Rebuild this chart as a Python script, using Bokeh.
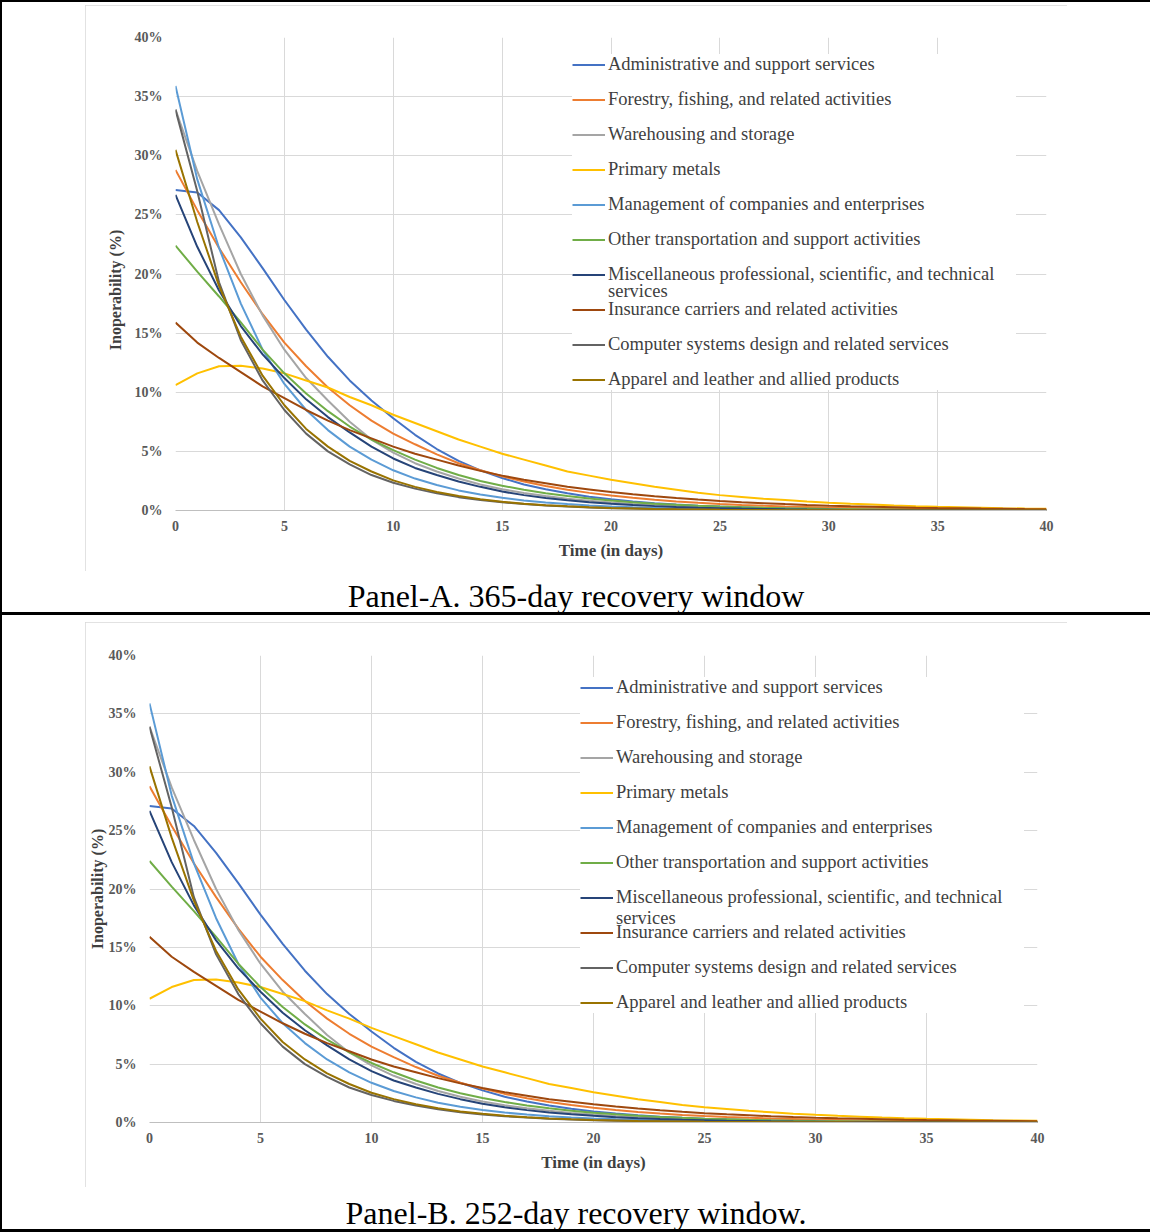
from bokeh.plotting import figure
from bokeh.models import (Range1d, FixedTicker, PrintfTickFormatter, Legend, LegendItem, Div)
from bokeh.layouts import column, row
from bokeh.embed import file_html
from bokeh.resources import INLINE

days = list(range(41))
x_ticks = [0, 5, 10, 15, 20, 25, 30, 35, 40]
y_ticks = [0, 5, 10, 15, 20, 25, 30, 35, 40]

names = [
    "Administrative and support services",
    "Forestry, fishing, and related activities",
    "Warehousing and storage",
    "Primary metals",
    "Management of companies and enterprises",
    "Other transportation and support activities",
    "Miscellaneous professional, scientific, and technical",
    "Insurance carriers and related activities",
    "Computer systems design and related services",
    "Apparel and leather and allied products",
]
wrapped_tail = "services"   # second line of the 7th legend entry
colors = ["#4472C4", "#ED7D31", "#A5A5A5", "#FFC000", "#5B9BD5",
          "#70AD47", "#264478", "#9E480E", "#636363", "#997300"]

admin = [27.1, 26.9, 25.4, 23.1, 20.5, 17.8, 15.3, 13.0, 11.0, 9.3, 7.8, 6.4, 5.2, 4.2, 3.4,
         2.75, 2.2, 1.8, 1.45, 1.17, 0.95, 0.77, 0.62, 0.5, 0.4, 0.33, 0.27, 0.22, 0.18, 0.14,
         0.12, 0.1, 0.08, 0.07, 0.06, 0.05, 0.04, 0.03, 0.03, 0.02, 0.02]
forestry = [28.8, 25.4, 22.2, 19.3, 16.6, 14.2, 12.2, 10.4, 8.9, 7.6, 6.5, 5.6, 4.75, 4.0, 3.4,
            2.9, 2.45, 2.08, 1.76, 1.49, 1.26, 1.07, 0.9, 0.77, 0.65, 0.55, 0.47, 0.4, 0.34, 0.29,
            0.24, 0.21, 0.18, 0.15, 0.13, 0.11, 0.09, 0.08, 0.07, 0.06, 0.05]
warehousing = [33.9, 28.7, 24.2, 20.0, 16.5, 13.6, 11.2, 9.3, 7.5, 6.0, 4.9, 4.0, 3.3, 2.7, 2.2,
               1.8, 1.48, 1.22, 1.0, 0.82, 0.68, 0.56, 0.46, 0.38, 0.31, 0.26, 0.21, 0.17, 0.14,
               0.12, 0.1, 0.08, 0.07, 0.05, 0.04, 0.04, 0.03, 0.03, 0.02, 0.02, 0.01]
metals = [10.6, 11.6, 12.2, 12.25, 12.0, 11.6, 11.0, 10.4, 9.6, 8.9, 8.1, 7.4, 6.7, 6.0, 5.4,
          4.8, 4.3, 3.8, 3.3, 2.95, 2.6, 2.3, 2.0, 1.75, 1.5, 1.3, 1.15, 1.0, 0.88, 0.76,
          0.66, 0.57, 0.5, 0.43, 0.37, 0.32, 0.28, 0.24, 0.2, 0.17, 0.15]
management = [35.9, 28.0, 22.2, 17.5, 13.6, 10.7, 8.5, 6.8, 5.4, 4.3, 3.4, 2.7, 2.15, 1.7, 1.35,
              1.07, 0.85, 0.68, 0.54, 0.43, 0.34, 0.27, 0.22, 0.17, 0.14, 0.11, 0.09, 0.07,
              0.06, 0.05, 0.04, 0.03, 0.03, 0.02, 0.02, 0.01, 0.01, 0.01, 0.01, 0.01, 0.0]
transport = [22.4, 20.2, 18.1, 15.9, 13.6, 11.6, 9.9, 8.4, 7.1, 6.0, 5.1, 4.3, 3.6, 3.0, 2.5,
             2.1, 1.75, 1.46, 1.22, 1.01, 0.84, 0.7, 0.58, 0.48, 0.4, 0.33, 0.28, 0.23, 0.19,
             0.16, 0.13, 0.11, 0.09, 0.08, 0.06, 0.05, 0.04, 0.04, 0.03, 0.03, 0.02]
misc = [26.7, 22.3, 18.6, 15.6, 13.2, 11.2, 9.4, 7.9, 6.6, 5.4, 4.4, 3.6, 3.0, 2.45, 2.0,
        1.6, 1.3, 1.06, 0.86, 0.7, 0.57, 0.46, 0.37, 0.3, 0.24, 0.2, 0.16, 0.13, 0.1, 0.08,
        0.07, 0.05, 0.04, 0.04, 0.03, 0.02, 0.02, 0.02, 0.01, 0.01, 0.01]
insurance = [15.9, 14.2, 12.9, 11.7, 10.5, 9.5, 8.5, 7.6, 6.8, 6.1, 5.4, 4.8, 4.3, 3.8, 3.35,
             2.95, 2.6, 2.3, 2.0, 1.78, 1.56, 1.37, 1.2, 1.05, 0.92, 0.8, 0.7, 0.62, 0.54, 0.47,
             0.41, 0.36, 0.32, 0.28, 0.24, 0.21, 0.19, 0.16, 0.14, 0.12, 0.11]
computer = [33.9, 27.0, 19.3, 14.4, 11.0, 8.5, 6.5, 5.0, 3.9, 3.0, 2.35, 1.85, 1.45, 1.13, 0.88,
            0.69, 0.54, 0.42, 0.33, 0.26, 0.2, 0.16, 0.12, 0.1, 0.08, 0.06, 0.05, 0.04, 0.03,
            0.02, 0.02, 0.02, 0.01, 0.01, 0.01, 0.01, 0.0, 0.0, 0.0, 0.0, 0.0]
apparel = [30.5, 24.4, 19.0, 14.7, 11.4, 8.9, 6.9, 5.4, 4.2, 3.3, 2.55, 2.0, 1.56, 1.22, 0.95,
           0.74, 0.58, 0.45, 0.35, 0.27, 0.21, 0.17, 0.13, 0.1, 0.08, 0.06, 0.05, 0.04, 0.03,
           0.03, 0.02, 0.02, 0.01, 0.01, 0.01, 0.01, 0.0, 0.0, 0.0, 0.0, 0.0]
series = [admin, forestry, warehousing, metals, management, transport, misc, insurance,
          computer, apparel]

captions = ["Panel-A. 365-day recovery window", "Panel-B. 252-day recovery window."]
y_title = "Inoperability (%)"
x_title = "Time (in days)"

SERIF = "Liberation Serif"
LEG_FONT = "18.5px"


def make_chart(height, ml, mr, mt, mb, ylab_standoff, ylab_pad, legend_loc, tail_loc, margin):
    p = figure(width=982, height=height, x_range=Range1d(0, 40), y_range=Range1d(0, 40),
               output_backend="svg", toolbar_location=None,
               min_border_left=ml, min_border_right=mr, min_border_top=mt, min_border_bottom=mb,
               background_fill_color="white", border_fill_color="white",
               outline_line_color=None, margin=margin,
               styles={"outline": "1px solid #d9d9d9", "outline-offset": "-1px"})
    renderers = []
    for ys, c in zip(series, colors):
        renderers.append(p.line(days, ys, line_color=c, line_width=2))

    for ax in (p.xaxis[0], p.yaxis[0]):
        ax.major_label_text_font = SERIF
        ax.major_label_text_font_style = "bold"
        ax.major_label_text_font_size = "14px"
        ax.major_label_text_color = "#595959"
        ax.axis_label_text_font = SERIF
        ax.axis_label_text_font_style = "bold"
        ax.axis_label_text_color = "#404040"
        ax.major_tick_line_color = None
        ax.minor_tick_line_color = None
        ax.major_tick_in = 0
        ax.major_tick_out = 0
    p.xaxis.axis_label_text_font_size = "17px"
    p.yaxis.axis_label_text_font_size = "16px"
    p.xaxis.ticker = FixedTicker(ticks=x_ticks)
    p.yaxis.ticker = FixedTicker(ticks=y_ticks)
    p.yaxis.formatter = PrintfTickFormatter(format="%d%%")
    p.xaxis.axis_line_color = "#bfbfbf"
    p.yaxis.axis_line_color = None
    p.xaxis.major_label_standoff = 10
    p.yaxis.major_label_standoff = 13
    p.xaxis.axis_label = x_title
    p.xaxis.axis_label_standoff = 7
    # non-breaking spaces after the title nudge it below the frame's centre, as in the source
    p.yaxis.axis_label = y_title + "\u00a0" * ylab_pad
    p.yaxis.axis_label_standoff = ylab_standoff
    p.xgrid.ticker = FixedTicker(ticks=x_ticks)
    p.ygrid.ticker = FixedTicker(ticks=y_ticks)
    p.xgrid.grid_line_color = "#d9d9d9"
    p.ygrid.grid_line_color = "#d9d9d9"

    items = [LegendItem(label=n, renderers=[r]) for n, r in zip(names, renderers)]
    leg = Legend(items=items, location=legend_loc, padding=10, spacing=14,
                 label_height=21, glyph_height=21, glyph_width=33, label_standoff=3,
                 label_width=408,
                 label_text_font=SERIF, label_text_font_size=LEG_FONT,
                 label_text_color="#404040", background_fill_color="white",
                 background_fill_alpha=1, border_line_color=None, margin=0)
    p.add_layout(leg)
    # wrapped second line of the long legend entry
    tail = Legend(items=[LegendItem(label=wrapped_tail, renderers=[renderers[6]])],
                  location=tail_loc, padding=0, spacing=0,
                  label_height=21, glyph_height=21, glyph_width=0, label_standoff=0,
                  label_text_font=SERIF, label_text_font_size=LEG_FONT,
                  label_text_color="#404040", background_fill_alpha=0,
                  border_line_color=None, margin=0)
    p.add_layout(tail)
    return p


def black(w, h):
    return Div(text="", width=w, height=h, margin=0, styles={"background-color": "black"})


def caption_div(text, top, h):
    html = ('<div style="font-family:\'Liberation Serif\';font-size:32px;line-height:34px;'
            'text-align:center;color:black;width:1148px;white-space:nowrap;">%s</div>' % text)
    return Div(text=html, width=1148, height=h, margin=(top, 0, 0, 0),
               styles={"font-family": SERIF, "font-size": "32px", "text-align": "center"})


pA = make_chart(566, 90, 21, 32, 61, 8, 8, (397, 120), (433, 208), (3, 0, 0, 83))
pB = make_chart(565, 64, 30, 33, 65, 0, 0, (431, 109), (467, 193), (7, 0, 0, 83))

rootA = column(
    black(1150, 2),
    row(black(2, 610), column(pA, caption_div(captions[0], 3, 38), margin=0, spacing=0),
        margin=0, spacing=0),
    margin=0, spacing=0)
rootB = column(
    black(1150, 3),
    row(black(2, 614), column(pB, caption_div(captions[1], 4, 38), margin=0, spacing=0),
        margin=0, spacing=0),
    black(1150, 3),
    margin=0, spacing=0)

open("out.html", "w").write(file_html([rootA, rootB], INLINE))
